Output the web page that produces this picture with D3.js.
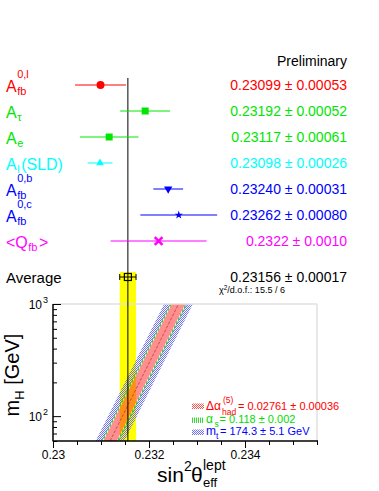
<!DOCTYPE html>
<html><head><meta charset="utf-8">
<script src="https://cdn.jsdelivr.net/npm/d3@7"></script>
<style>
body{margin:0;background:#fff}
svg{display:block}
text{font-family:"Liberation Sans",Arial,Helvetica,sans-serif}
</style></head>
<body><svg id="c" width="379" height="491"></svg>
<script>
// ---------------- data ----------------
const rowNames = ["Afb0l","Atau","Ae","AlSLD","Afb0b","Afb0c","Qfb"];
const rowMain = ["A","A","A","A","A","A","<Q"];
const rowSub = ["fb","τ","e","l","fb","fb","fb"];
const rowSup = ["0,l","","","","0,b","0,c",""];
const rowTail = ["","","","(SLD)","","",">"];
const values = [0.23099,0.23192,0.23117,0.23098,0.23240,0.23262,0.2322];
const errors = [0.00053,0.00052,0.00061,0.00026,0.00031,0.00080,0.0010];
const valueLabels = ["0.23099 ± 0.00053","0.23192 ± 0.00052","0.23117 ± 0.00061","0.23098 ± 0.00026","0.23240 ± 0.00031","0.23262 ± 0.00080","0.2322 ± 0.0010"];
const average = 0.23156;
const averageError = 0.00017;
const averageLabel = "0.23156 ± 0.00017";
const chi2Label = "15.5 / 6";
const xMajorTicks = [0.230,0.232,0.234];
const xMajorLabels = ["0.23","0.232","0.234"];
const xMinorTicks = [0.2305,0.231,0.2315,0.2325,0.233,0.2335,0.2345,0.235,0.2355];
const yMajorTicks = [100,1000];
const yMajorExp = ["2","3"];
const yMinorTicks = [60,70,80,90,200,300,400,500,600,700,800,900];
// SM prediction bands vs. Higgs mass
const mH = [60,100,200,500,1000];
const bandCenter = [0.231188,0.231447,0.231799,0.232264,0.232615];
const halfDeltaAlpha = 0.00014;
const halfAlphaS = 0.00017;
const halfMtop = 0.00030;
const legendTexts = ["= 0.02761 ± 0.00036","= 0.118 ± 0.002","= 174.3 ± 5.1 GeV"];

// ---------------- styles ----------------
const rowColors = ["#ff0000","#00e600","#00e600","#00ffff","#0000ff","#0000ff","#ff00ff"];
const rowSymbols = [d3.symbolCircle,d3.symbolSquare,d3.symbolSquare,d3.symbolTriangle,"tridown",d3.symbolStar,d3.symbolX];
const rowSymSize = [50,49,49,26,0,22,40];

const svg = d3.select("#c");
const x = d3.scaleLinear().domain([0.23,0.2355]).range([53,317]);
const yL = d3.scaleLog().domain([60,1000]).range([441,304]);
const rowY = d3.scaleLinear().domain([0,6]).range([85,241]);
const avgY = 277;

const defs = svg.append("defs");
function checker(id,color){
  const p = defs.append("pattern").attr("id",id).attr("width",2).attr("height",2).attr("patternUnits","userSpaceOnUse");
  p.append("rect").attr("x",0).attr("y",0).attr("width",1).attr("height",1).attr("fill",color).attr("shape-rendering","crispEdges");
  p.append("rect").attr("x",1).attr("y",1).attr("width",1).attr("height",1).attr("fill",color).attr("shape-rendering","crispEdges");
}
checker("pBlue","#7070ff");
checker("pRed","#ff5050");
{
  const p = defs.append("pattern").attr("id","pGreen").attr("width",2).attr("height",2).attr("patternUnits","userSpaceOnUse");
  p.append("rect").attr("x",0).attr("y",0).attr("width",1).attr("height",2).attr("fill","#33dd33").attr("shape-rendering","crispEdges");
}
defs.append("clipPath").attr("id","frame").append("rect")
  .attr("x",x(0.23)).attr("y",yL(1000)).attr("width",x(0.2355)-x(0.23)).attr("height",yL(60)-yL(1000));

// yellow average band
svg.append("rect").attr("x",x(average-averageError)).attr("y",272)
  .attr("width",x(average+averageError)-x(average-averageError)).attr("height",yL(60)-272)
  .attr("fill","#ffff00");

// bands
const bandArea = hw => d3.area()
  .y(d=>yL(d))
  .x0((d,i)=>x(bandCenter[i]-hw))
  .x1((d,i)=>x(bandCenter[i]+hw));
const gB = svg.append("g").attr("clip-path","url(#frame)");
gB.append("path").attr("d",bandArea(halfMtop)(mH)+bandArea(halfAlphaS)(mH))
  .attr("fill","url(#pBlue)").attr("fill-rule","evenodd");
gB.append("path").attr("d",bandArea(halfAlphaS)(mH)+bandArea(halfDeltaAlpha)(mH))
  .attr("fill","url(#pGreen)").attr("fill-rule","evenodd");
gB.append("path").attr("d",bandArea(halfAlphaS)(mH)).attr("fill","none").attr("stroke","#2a9a5a").attr("stroke-width",0.6);
gB.append("path").attr("d",bandArea(halfDeltaAlpha)(mH)).attr("fill","rgba(255,50,50,0.55)");
gB.append("path").attr("d",d3.line().x((d,i)=>x(bandCenter[i])).y(d=>yL(d))(mH))
  .attr("fill","none").attr("stroke","#b03030").attr("stroke-width",0.7).attr("stroke-dasharray","3,1.5");

// frame
svg.append("line").attr("x1",x(0.23)).attr("x2",x(0.2355)).attr("y1",yL(1000)).attr("y2",yL(1000)).attr("stroke","#e0e0e0").attr("stroke-width",1.5);
svg.append("line").attr("x1",x(0.2355)).attr("x2",x(0.2355)).attr("y1",yL(1000)).attr("y2",yL(60)).attr("stroke","#e0e0e0").attr("stroke-width",1.5);

// axes
const gx = svg.append("g").attr("transform",`translate(0,${yL(60)})`);
gx.call(d3.axisBottom(x).tickValues(xMinorTicks).tickSize(4).tickSizeOuter(0).tickFormat(""));
gx.select(".domain").remove();
const gx2 = svg.append("g").attr("transform",`translate(0,${yL(60)})`);
gx2.call(d3.axisBottom(x).tickValues(xMajorTicks).tickSize(7).tickSizeOuter(0).tickFormat((d,i)=>xMajorLabels[i]));
gx2.select(".domain").remove();
gx2.selectAll("text").attr("font-size",12).attr("font-family","Liberation Sans, Arial, sans-serif").attr("y",9).attr("dy","0.71em");

const gy = svg.append("g").attr("transform",`translate(${x(0.23)},0)`);
gy.call(d3.axisRight(yL).tickValues(yMinorTicks).tickSize(4).tickSizeOuter(0).tickFormat(""));
gy.select(".domain").remove();
const gy2 = svg.append("g").attr("transform",`translate(${x(0.23)},0)`);
gy2.call(d3.axisRight(yL).tickValues(yMajorTicks).tickSize(8).tickSizeOuter(0).tickFormat(""));
gy2.select(".domain").remove();
svg.selectAll(".tick line").attr("stroke","#000").attr("stroke-width",1);

svg.append("line").attr("x1",x(0.23)).attr("x2",x(0.23)).attr("y1",yL(1000)).attr("y2",yL(60)+0.5).attr("stroke","#000").attr("stroke-width",1.5);
svg.append("line").attr("x1",x(0.23)).attr("x2",x(0.2355)+1).attr("y1",yL(60)).attr("y2",yL(60)).attr("stroke","#000").attr("stroke-width",1.5);

yMajorTicks.forEach((v,i)=>{
  svg.append("text").attr("x",42).attr("y",yL(v)+5).attr("text-anchor","end").attr("font-size",12).text("10");
  svg.append("text").attr("x",43).attr("y",yL(v)-1).attr("font-size",9).text(yMajorExp[i]);
});

// axis titles
const yt = svg.append("text").attr("transform","translate(19,375) rotate(-90)").attr("text-anchor","middle").attr("font-size",20);
yt.append("tspan").text("m");
yt.append("tspan").attr("font-size",13).attr("dy",5).text("H");
yt.append("tspan").attr("dy",-5).text("  [GeV]");

svg.append("text").attr("x",157).attr("y",482).attr("font-size",21).text("sin");
svg.append("text").attr("x",184).attr("y",471).attr("font-size",14).text("2");
svg.append("text").attr("x",191).attr("y",482).attr("font-size",21).text("θ");
svg.append("text").attr("x",203).attr("y",470).attr("font-size",14).text("lept");
svg.append("text").attr("x",203).attr("y",487).attr("font-size",13).text("eff");

// legend
const legPatterns = ["url(#pRed)","url(#pGreen)","url(#pBlue)"];
const legColors = ["#ff0000","#00dd00","#0000ff"];
const legY = [406,420,432];
legY.forEach((yy,i)=>{
  svg.append("rect").attr("x",192).attr("y",yy-2.5).attr("width",12).attr("height",5.5).attr("fill",legPatterns[i]);
});
{
  const c = legColors[0];
  svg.append("text").attr("x",206).attr("y",410).attr("font-size",12).attr("fill",c).text("Δα");
  svg.append("text").attr("x",223).attr("y",403).attr("font-size",8.5).attr("fill",c).text("(5)");
  svg.append("text").attr("x",222).attr("y",415).attr("font-size",8.5).attr("fill",c).text("had");
  svg.append("text").attr("x",238).attr("y",410).attr("font-size",11).attr("fill",c).text(legendTexts[0]);
  const c2 = legColors[1];
  svg.append("text").attr("x",206).attr("y",423).attr("font-size",12).attr("fill",c2).text("α");
  svg.append("text").attr("x",214.5).attr("y",427).attr("font-size",8.5).attr("fill",c2).text("s");
  svg.append("text").attr("x",219.5).attr("y",423).attr("font-size",11).attr("fill",c2).text(legendTexts[1]);
  const c3 = legColors[2];
  svg.append("text").attr("x",206).attr("y",435).attr("font-size",12).attr("fill",c3).text("m");
  svg.append("text").attr("x",216).attr("y",439).attr("font-size",8.5).attr("fill",c3).text("t");
  svg.append("text").attr("x",220).attr("y",435).attr("font-size",11).attr("fill",c3).text(legendTexts[2]);
}

// average vertical line
svg.append("line").attr("x1",x(average)).attr("x2",x(average)).attr("y1",78).attr("y2",yL(60))
  .attr("stroke","#000").attr("stroke-width",1);

// upper panel
svg.append("text").attr("x",347).attr("y",66).attr("text-anchor","end").attr("font-size",14).text("Preliminary");

rowNames.forEach((n,i)=>{
  const yy = rowY(i), c = rowColors[i];
  svg.append("line").attr("x1",x(values[i]-errors[i])).attr("x2",x(values[i]+errors[i]))
    .attr("y1",yy).attr("y2",yy).attr("stroke",c).attr("stroke-width",1);
  if(rowSymbols[i]==="tridown"){
    svg.append("path").attr("d",d3.symbol(d3.symbolTriangle,30)()).attr("transform",`translate(${x(values[i])},${yy}) rotate(180)`).attr("fill",c);
  } else if(rowSymbols[i]===d3.symbolX){
    svg.append("path").attr("d",d3.symbol(d3.symbolX,rowSymSize[i])()).attr("transform",`translate(${x(values[i])},${yy})`)
      .attr("fill","none").attr("stroke",c).attr("stroke-width",2.5);
  } else {
    svg.append("path").attr("d",d3.symbol(rowSymbols[i],rowSymSize[i])()).attr("transform",`translate(${x(values[i])},${yy})`).attr("fill",c);
  }
  svg.append("text").attr("x",347).attr("y",yy+5).attr("text-anchor","end").attr("font-size",14).attr("fill",c).text(valueLabels[i]);
  // label
  const m = svg.append("text").attr("x",6).attr("y",yy+6.5).attr("font-size",16).attr("fill",c).text(rowMain[i]);
  let xx = 6 + m.node().getComputedTextLength() + 0.5;
  let w = 0;
  if(rowSub[i]){
    const s = svg.append("text").attr("x",xx).attr("y",yy+10).attr("font-size",11).attr("fill",c).text(rowSub[i]);
    w = Math.max(w, s.node().getComputedTextLength());
  }
  if(rowSup[i]){
    const s = svg.append("text").attr("x",xx).attr("y",yy-7).attr("font-size",11).attr("fill",c).text(rowSup[i]);
    w = Math.max(w, s.node().getComputedTextLength());
  }
  if(rowTail[i]){
    svg.append("text").attr("x",xx+w+1.5).attr("y",yy+6.5).attr("font-size",16).attr("fill",c).text(rowTail[i]);
  }
});

// average
svg.append("text").attr("x",6).attr("y",avgY+5.5).attr("font-size",15).text("Average");
svg.append("line").attr("x1",x(average-averageError)).attr("x2",x(average+averageError)).attr("y1",avgY).attr("y2",avgY).attr("stroke","#000");
[average-averageError,average+averageError].forEach(v=>{
  svg.append("line").attr("x1",x(v)).attr("x2",x(v)).attr("y1",avgY-3).attr("y2",avgY+3).attr("stroke","#000");
});
svg.append("rect").attr("x",x(average)-3.5).attr("y",avgY-3.5).attr("width",7).attr("height",7)
  .attr("fill","none").attr("stroke","#000").attr("stroke-width",1.2);
svg.append("text").attr("x",347).attr("y",avgY+5).attr("text-anchor","end").attr("font-size",14).text(averageLabel);
const ch = svg.append("text").attr("x",219).attr("y",293).attr("font-size",9);
ch.append("tspan").text("χ");
ch.append("tspan").attr("dy",-3).attr("font-size",6.5).text("2");
ch.append("tspan").attr("dy",3).text("/d.o.f.: " + chi2Label);
</script></body></html>
